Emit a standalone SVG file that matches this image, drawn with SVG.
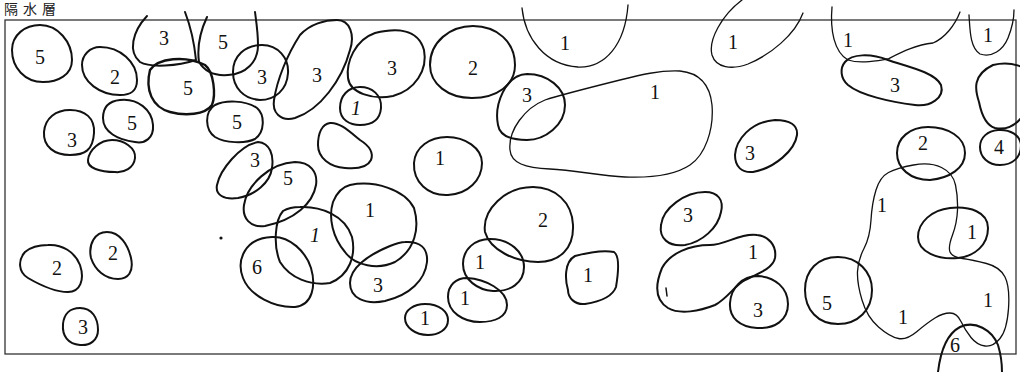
<svg xmlns="http://www.w3.org/2000/svg" width="1020" height="372" viewBox="0 0 1020 372">
<style>
.b{fill:none;stroke:#111;stroke-width:2;stroke-linejoin:round;stroke-linecap:round}
.t{fill:none;stroke:#111;stroke-width:1.3;stroke-linejoin:round;stroke-linecap:round}
.n{font-family:"Liberation Serif","DejaVu Serif",serif;font-size:20px;fill:#111;text-anchor:middle}
.i{font-style:italic}
.ttl{font-family:"Noto Sans CJK JP","Noto Sans CJK SC",sans-serif;font-size:14px;fill:#222}
.fr{fill:none;stroke:#333;stroke-width:1.3}
</style>
<rect width="1020" height="372" fill="#fff"/>
<g id="title"><text class="ttl" x="4" y="14">隔</text><text class="ttl" x="23" y="14">水</text><text class="ttl" x="42" y="14">層</text></g>
<rect id="frame" class="fr" x="5" y="20" width="1011" height="334"/>
<g id="blobs">
<g id="b1"><path class="b" d="M40,25 C58,25 72,42 72,60 C72,75 58,82 43,82 C25,82 12,68 12,50 C12,35 25,25 40,25Z"/><text class="n" x="40" y="64">5</text></g>
<g id="b2"><path class="b" d="M100,47 C120,47 137,62 137,80 C137,92 130,95 120,95 C100,95 82,82 82,65 C82,55 90,47 100,47Z"/><text class="n" x="115" y="84">2</text></g>
<g id="b3"><path class="b" d="M147,16 C132,32 128,52 140,62 C150,68 178,66 196,60 C194,40 190,25 185,12"/><text class="n" x="164" y="45">3</text></g>
<g id="b4"><path class="b" d="M207,17 C200,32 197,48 199,62 C205,72 215,76 228,75 C246,74 258,62 258,45 C258,32 256,20 255,12"/><text class="n" x="223" y="49">5</text></g>
<g id="b5"><path class="b" style="stroke-width:2.4" d="M150,70 C158,58 185,55 205,65 C214,72 216,95 212,105 C205,115 185,116 170,112 C152,107 145,90 150,70Z"/><text class="n" x="188" y="95">5</text></g>
<g id="b6"><path class="b" d="M262,45 C278,45 289,58 288,73 C287,90 275,100 260,100 C244,99 233,88 233,72 C233,56 245,45 262,45Z"/><text class="n" x="262" y="84">3</text></g>
<g id="b7"><path class="b" d="M337,20 C350,20 355,35 350,50 C342,80 320,110 295,118 C280,122 272,112 274,100 C277,80 287,55 300,35 C310,24 325,20 337,20Z"/><text class="n" x="317" y="82">3</text></g>
<g id="b8"><path class="b" d="M215,105 C225,100 245,100 257,108 C265,115 265,132 255,139 C245,144 225,143 215,137 C205,130 204,112 215,105Z"/><text class="n" x="237" y="129">5</text></g>
<g id="b9"><path class="b" d="M120,100 C138,98 152,110 153,125 C154,138 145,144 135,142 C118,140 103,132 103,118 C103,106 110,101 120,100Z"/><text class="n" x="132" y="130">5</text></g>
<g id="b10"><path class="b" d="M70,110 C85,110 95,118 94,133 C93,150 85,155 70,155 C55,155 43,147 44,132 C45,118 56,110 70,110Z"/><text class="n" x="72" y="147">3</text></g>
<g id="b11"><path class="b" d="M112,140 C124,140 136,148 135,158 C134,168 124,173 115,172 C100,172 87,168 88,160 C89,150 100,140 112,140Z"/></g>
<g id="b12"><path class="b" d="M258,142 C270,143 274,155 272,168 C270,183 255,195 238,198 C224,200 215,195 217,185 C220,170 240,145 258,142Z"/><text class="n" x="255" y="167">3</text></g>
<g id="b13"><path class="b" d="M295,162 C310,162 318,172 316,185 C313,203 295,220 265,226 C250,228 242,218 244,205 C247,185 270,163 295,162Z"/><text class="n" x="288" y="185">5</text></g>
<g id="b14"><path class="b" d="M300,207 C320,206 345,215 352,237 C356,255 350,275 330,283 C310,286 290,278 280,262 C273,245 275,220 283,211 C288,208 294,207 300,207Z"/><text class="n i" x="315" y="242">1</text></g>
<g id="b15"><path class="b" d="M350,185 C375,180 405,190 414,208 C420,228 415,250 395,262 C378,270 355,266 345,252 C333,238 328,218 333,202 C337,192 342,187 350,185Z"/><text class="n" x="370" y="217">1</text></g>
<g id="b16"><path class="b" d="M272,237 C290,236 306,252 311,268 C316,285 313,305 295,307 C275,308 250,296 243,278 C236,260 245,238 272,237Z"/><text class="n" x="257" y="274">6</text></g>
<g id="b17"><path class="b" d="M405,242 C420,241 428,248 427,262 C425,280 410,295 385,301 C365,305 350,298 350,283 C350,268 368,255 390,246 C395,244 400,242 405,242Z"/><text class="n" x="378" y="292">3</text></g>
<g id="b18"><path class="b" d="M330,123 C340,122 350,132 360,140 C368,145 374,152 371,160 C367,168 355,169 345,168 C330,167 318,158 318,145 C318,133 322,124 330,123Z"/></g>
<g id="b19"><path class="b" d="M375,33 C395,28 418,28 424,50 C428,70 415,90 393,96 C372,100 350,93 348,78 C346,62 355,40 375,33Z"/><text class="n" x="392" y="75">3</text></g>
<g id="b20"><path class="b" d="M360,87 C372,87 382,95 381,108 C380,120 372,125 360,125 C350,125 340,120 340,108 C340,96 348,87 360,87Z"/><text class="n i" x="356" y="115">1</text></g>
<g id="b21"><path class="b" d="M473,26 C497,26 515,42 515,65 C515,85 497,98 472,98 C448,98 430,84 430,65 C430,42 450,26 473,26Z"/><text class="n" x="473" y="75">2</text></g>
<g id="b22"><path class="t" d="M522,8 C525,38 545,65 578,67 C605,68 625,45 628,5"/><text class="n" x="565" y="50">1</text></g>
<g id="b23"><path class="b" d="M527,74 C548,74 565,88 565,105 C565,125 545,140 527,140 C512,140 500,137 498,125 C494,105 505,75 527,74Z"/><text class="n" x="527" y="102">3</text></g>
<g id="b24"><path class="t" d="M510,150 C508,130 525,108 545,100 C560,95 600,85 620,80 C640,75 660,70 680,71 C700,73 710,85 712,105 C714,130 705,155 690,165 C675,175 650,178 625,177 C600,176 575,170 550,169 C525,168 511,163 510,150Z"/><text class="n" x="655" y="99">1</text></g>
<g id="b25"><path class="b" d="M447,137 C465,137 482,148 482,163 C482,180 468,194 448,195 C428,196 413,182 414,163 C415,147 430,137 447,137Z"/><text class="n" x="440" y="165">1</text></g>
<g id="b26"><path class="t" d="M742,0 C722,15 708,40 712,55 C716,68 732,70 748,64 C770,55 795,35 803,13"/><text class="n" x="733" y="49">1</text></g>
<g id="b27"><path class="t" d="M832,7 C830,30 834,52 848,60 C860,64 875,61 888,59 C900,53 915,45 933,43 C945,38 955,25 960,12"/><text class="n" x="848" y="47">1</text></g>
<g id="b28"><path class="b" d="M845,62 C852,54 870,53 888,60 C905,66 935,72 941,85 C945,98 930,107 915,105 C890,102 860,95 848,85 C840,78 840,68 845,62Z"/><text class="n" x="895" y="92">3</text></g>
<g id="b29"><path class="t" d="M969,15 C970,30 970,48 980,54 C992,58 1003,50 1008,38 C1012,28 1014,18 1014,10"/><text class="n" x="988" y="42">1</text></g>
<g id="b30"><path class="b" d="M993,65 C1005,62 1015,64 1022,67 L1022,117 C1014,127 1005,130 995,128 C985,125 981,112 979,102 C975,90 972,75 993,65Z"/></g>
<g id="b31"><path class="b" d="M998,130 C1010,129 1020,135 1021,145 C1021,158 1012,165 1000,165 C988,165 980,157 980,147 C980,137 988,131 998,130Z"/><text class="n" x="999" y="154">4</text></g>
<g id="b32"><path class="b" d="M928,127 C948,127 965,137 965,153 C965,168 950,178 930,180 C910,180 897,168 897,153 C897,138 910,127 928,127Z"/><text class="n" x="923" y="150">2</text></g>
<g id="b33"><path class="b" d="M775,120 C790,120 798,125 797,135 C795,150 775,168 753,172 C742,173 735,167 735,155 C736,140 750,122 775,120Z"/><text class="n" x="750" y="160">3</text></g>
<g id="b34"><path class="b" d="M705,192 C718,192 724,200 721,212 C718,228 702,242 685,245 C668,247 659,238 661,225 C663,208 685,192 705,192Z"/><text class="n" x="688" y="222">3</text></g>
<g id="b35"><path class="b" d="M757,235 C768,236 777,245 775,258 C773,268 760,273 745,280 C735,285 728,298 715,305 C700,311 680,315 668,308 C655,300 655,285 662,268 C670,253 690,245 710,245 C725,245 740,233 757,235Z"/><path class="b" style="stroke-width:1.5" d="M666,288 L667,296"/><text class="n" x="753" y="259">1</text></g>
<g id="b36"><path class="b" d="M758,276 C775,277 788,288 788,304 C788,320 775,329 757,328 C740,327 729,318 730,303 C731,288 742,276 758,276Z"/><text class="n" x="758" y="317">3</text></g>
<g id="b37"><path class="b" d="M838,257 C858,257 872,272 872,290 C872,310 858,324 838,324 C818,324 805,310 805,290 C805,270 818,257 838,257Z"/><text class="n" x="827" y="310">5</text></g>
<g id="b38"><path class="t" d="M913.5,165 Q930,162 941.5,167.5 Q953,173 955.5,185 Q958,197 957.5,210 Q957,223 952.5,235 Q948,247 950,252 Q952,257 962.5,258.5 Q973,260 986.5,263.5 Q1000,267 1005,277 Q1010,287 1008.5,308.5 Q1007,330 1000,338.5 Q993,347 985,346 Q977,345 971,337.5 Q965,330 961,321.5 Q957,313 950,313 Q943,313 935,318 Q927,323 917,331.5 Q907,340 898.5,338.5 Q890,337 878.5,327 Q867,317 862,300 Q857,283 857.5,271.5 Q858,260 864,248.5 Q870,237 871,220 Q872,203 876,190 Q880,177 888.5,172.5 Q897,168 913.5,165Z"/><text class="n" x="882" y="212">1</text><text class="n" x="903" y="324">1</text><text class="n" x="988" y="307">1</text></g>
<g id="b39"><path class="b" d="M950,208 C970,206 988,212 988,228 C988,245 975,256 958,258 C938,260 918,252 918,237 C918,222 932,210 950,208Z"/><text class="n" x="972" y="239">1</text></g>
<g id="b40"><path class="b" d="M938,372 C940,355 945,335 960,327 C975,320 992,330 998,345 C1001,355 1002,365 1002,372"/><text class="n" x="955" y="352">6</text></g>
<g id="b41"><path class="b" d="M48,245 C62,244 75,252 80,265 C85,280 80,292 68,292 C55,292 40,285 28,278 C18,272 18,260 25,252 C32,246 40,245 48,245Z"/><text class="n" x="57" y="275">2</text></g>
<g id="b42"><path class="b" d="M107,232 C120,232 128,245 131,258 C134,272 128,279 118,279 C105,279 95,270 91,258 C88,244 95,232 107,232Z"/><text class="n" x="113" y="260">2</text></g>
<g id="b43"><path class="b" d="M80,308 C92,308 98,318 98,330 C98,340 90,346 80,345 C68,344 62,336 63,324 C64,314 70,308 80,308Z"/><text class="n" x="83" y="334">3</text></g>
<g id="b44"><path class="b" d="M533,187 C555,187 572,202 573,225 C574,248 560,262 538,262 C515,262 490,250 485,232 C482,210 505,187 533,187Z"/><text class="n" x="543" y="227">2</text></g>
<g id="b45"><path class="b" d="M490,239 C510,239 524,252 524,267 C524,283 510,292 493,291 C478,290 463,280 463,264 C463,249 475,239 490,239Z"/><text class="n" x="480" y="269">1</text></g>
<g id="b46"><path class="b" d="M467,278 C485,279 507,290 507,305 C507,317 495,322 480,322 C463,322 448,312 448,297 C448,285 456,278 467,278Z"/><text class="n" x="465" y="305">1</text></g>
<g id="b47"><path class="b" d="M425,304 C440,304 448,312 448,320 C448,330 438,335 428,335 C415,335 405,327 405,318 C405,310 414,304 425,304Z"/><text class="n" x="425" y="325">1</text></g>
<g id="b48"><path class="b" d="M575,256 C590,252 605,250 614,252 C620,256 618,275 616,287 C612,298 598,302 585,304 C575,305 568,298 568,290 C565,280 564,262 575,256Z"/><text class="n" x="588" y="282">1</text></g>
<circle id="dot" cx="221" cy="238" r="1.6" fill="#111"/>
</g>
</svg>
